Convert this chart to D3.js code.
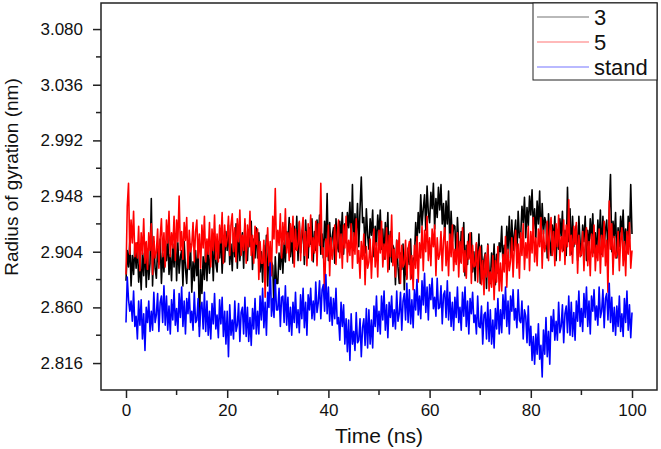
<!DOCTYPE html>
<html>
<head>
<meta charset="utf-8">
<script src="https://cdn.jsdelivr.net/npm/d3@7"></script>
<style>
body { margin: 0; background: #fff; }
svg { display: block; }
text { font-family: "Liberation Sans", Arial, sans-serif; fill: #111; }
</style>
</head>
<body>
<div id="chart"></div>
<script>
// Radius of gyration traces, one sample every 0.25 ns from 0 to 100 ns
const TIME_STEP = 0.25;
const SERIES_NAMES = ["3", "5", "stand"];
const SERIES_COLORS = ["#000000", "#ff0000", "#0000ff"];

const RG_3 = [
  2.881,2.905,2.892,2.912, 2.877,2.901,2.886,2.910, 2.891,2.911,2.880,2.896, 2.874,2.903,2.885,2.911,
  2.876,2.906,2.882,2.895, 2.946,2.877,2.912,2.891, 2.883,2.907,2.894,2.914, 2.879,2.903,2.888,2.912,
  2.897,2.917,2.886,2.902, 2.881,2.910,2.892,2.918, 2.881,2.911,2.887,2.900, 2.905,2.877,2.912,2.891,
  2.879,2.903,2.890,2.910, 2.872,2.896,2.881,2.905, 2.885,2.905,2.845,2.890, 2.871,2.900,2.882,2.908,
  2.881,2.911,2.887,2.900, 2.909,2.881,2.916,2.895, 2.888,2.912,2.899,2.919, 2.887,2.911,2.896,2.920,
  2.905,2.925,2.894,2.910, 2.889,2.918,2.900,2.926, 2.891,2.921,2.897,2.910, 2.919,2.891,2.926,2.905,
  2.897,2.921,2.908,2.928, 2.890,2.914,2.899,2.923, 2.899,2.919,2.888,2.904, 2.880,2.909,2.891,2.917,
  2.877,2.907,2.883,2.896, 2.893,2.858,2.900,2.879, 2.879,2.903,2.890,2.910, 2.887,2.911,2.896,2.920,
  2.911,2.931,2.900,2.916, 2.895,2.924,2.906,2.932, 2.897,2.927,2.903,2.916, 2.922,2.894,2.929,2.908,
  2.899,2.923,2.910,2.930, 2.896,2.920,2.905,2.929, 2.913,2.933,2.902,2.918, 2.899,2.928,2.910,2.950,
  2.897,2.927,2.903,2.916, 2.923,2.895,2.930,2.909, 2.904,2.928,2.915,2.935, 2.902,2.926,2.911,2.935,
  2.923,2.943,2.912,2.957, 2.905,2.934,2.916,2.942, 2.908,2.938,2.963,2.927, 2.931,2.903,2.938,2.917,
  2.906,2.930,2.917,2.937, 2.900,2.924,2.909,2.933, 2.917,2.937,2.906,2.922, 2.898,2.927,2.909,2.935,
  2.890,2.920,2.896,2.909, 2.906,2.878,2.913,2.892, 2.879,2.903,2.890,2.910, 2.874,2.898,2.883,2.907,
  2.894,2.914,2.883,2.899, 2.898,2.927,2.909,2.935, 2.919,2.949,2.925,2.938, 2.949,2.921,2.956,2.935,
  2.927,2.951,2.938,2.958, 2.922,2.946,2.931,2.955, 2.937,2.957,2.926,2.942, 2.915,2.944,2.926,2.952,
  2.906,2.936,2.912,2.925, 2.924,2.896,2.931,2.910, 2.896,2.920,2.907,2.927, 2.885,2.909,2.894,2.918,
  2.899,2.919,2.888,2.904, 2.881,2.910,2.892,2.918, 2.879,2.909,2.885,2.898, 2.903,2.875,2.910,2.889,
  2.879,2.903,2.890,2.910, 2.878,2.902,2.887,2.911, 2.904,2.924,2.893,2.909, 2.895,2.924,2.906,2.932,
  2.899,2.929,2.905,2.918, 2.929,2.901,2.936,2.915, 2.916,2.940,2.927,2.947, 2.915,2.939,2.924,2.948,
  2.933,2.953,2.922,2.938, 2.915,2.944,2.926,2.952, 2.912,2.942,2.918,2.931, 2.927,2.899,2.934,2.913,
  2.901,2.925,2.912,2.932, 2.897,2.921,2.906,2.930, 2.916,2.936,2.905,2.921, 2.901,2.955,2.912,2.938,
  2.902,2.932,2.908,2.921, 2.925,2.897,2.932,2.911, 2.901,2.925,2.912,2.932, 2.897,2.921,2.906,2.930,
  2.914,2.934,2.903,2.919, 2.900,2.929,2.911,2.937, 2.902,2.932,2.908,2.921, 2.929,2.901,2.936,2.965,
  2.904,2.928,2.915,2.935, 2.899,2.923,2.908,2.932, 2.917,2.937,2.906,2.922, 2.903,2.932,2.914,2.957,
  2.918
];

const RG_5 = [
  2.886,2.940,2.958,2.902, 2.929,2.911,2.936,2.900, 2.911,2.899,2.924,2.889, 2.919,2.902,2.930,2.895,
  2.912,2.890,2.919,2.905, 2.926,2.886,2.916,2.899, 2.904,2.922,2.891,2.915, 2.930,2.900,2.919,2.892,
  2.929,2.911,2.936,2.900, 2.919,2.907,2.932,2.897, 2.929,2.912,2.948,2.905, 2.920,2.898,2.927,2.913,
  2.931,2.891,2.921,2.904, 2.909,2.927,2.896,2.920, 2.929,2.899,2.918,2.891, 2.925,2.907,2.932,2.896,
  2.914,2.902,2.927,2.892, 2.922,2.905,2.933,2.898, 2.918,2.896,2.925,2.911, 2.935,2.895,2.925,2.908,
  2.914,2.932,2.901,2.925, 2.934,2.904,2.923,2.896, 2.930,2.912,2.937,2.901, 2.917,2.905,2.930,2.895,
  2.925,2.908,2.936,2.901, 2.917,2.895,2.924,2.910, 2.922,2.882,2.912,2.895, 2.895,2.913,2.868,2.906,
  2.923,2.893,2.912,2.885, 2.932,2.914,2.954,2.903, 2.921,2.909,2.934,2.899, 2.927,2.910,2.938,2.903,
  2.919,2.897,2.926,2.912, 2.932,2.892,2.922,2.905, 2.910,2.928,2.897,2.921, 2.931,2.901,2.920,2.893,
  2.926,2.908,2.933,2.897, 2.915,2.903,2.928,2.893, 2.926,2.909,2.958,2.902, 2.907,2.868,2.914,2.900,
  2.925,2.885,2.915,2.898, 2.907,2.925,2.894,2.918, 2.929,2.899,2.918,2.891, 2.925,2.907,2.932,2.896,
  2.913,2.901,2.926,2.891, 2.919,2.902,2.930,2.895, 2.905,2.883,2.912,2.898, 2.918,2.878,2.908,2.891,
  2.896,2.914,2.883,2.907, 2.922,2.892,2.911,2.884, 2.921,2.903,2.928,2.892, 2.910,2.898,2.923,2.888,
  2.917,2.900,2.933,2.893, 2.906,2.884,2.913,2.899, 2.919,2.879,2.909,2.892, 2.895,2.913,2.882,2.906,
  2.912,2.882,2.901,2.874, 2.909,2.891,2.916,2.880, 2.911,2.899,2.924,2.889, 2.921,2.904,2.932,2.897,
  2.915,2.893,2.922,2.908, 2.925,2.885,2.915,2.898, 2.902,2.920,2.889,2.913, 2.923,2.893,2.912,2.885,
  2.918,2.900,2.925,2.889, 2.906,2.894,2.919,2.884, 2.912,2.895,2.923,2.888, 2.905,2.883,2.912,2.898,
  2.919,2.879,2.909,2.892, 2.893,2.911,2.880,2.904, 2.908,2.878,2.897,2.870, 2.902,2.884,2.909,2.873,
  2.888,2.876,2.901,2.866, 2.897,2.880,2.908,2.873, 2.895,2.873,2.902,2.888, 2.916,2.876,2.906,2.889,
  2.897,2.915,2.884,2.908, 2.921,2.891,2.910,2.883, 2.919,2.901,2.926,2.890, 2.911,2.899,2.924,2.889,
  2.920,2.903,2.931,2.896, 2.915,2.893,2.922,2.908, 2.931,2.891,2.921,2.904, 2.910,2.928,2.897,2.921,
  2.931,2.901,2.920,2.893, 2.926,2.908,2.933,2.897, 2.916,2.904,2.929,2.894, 2.925,2.908,2.945,2.901,
  2.917,2.895,2.924,2.910, 2.927,2.887,2.917,2.900, 2.902,2.920,2.889,2.913, 2.923,2.893,2.912,2.885,
  2.918,2.900,2.925,2.889, 2.909,2.897,2.922,2.887, 2.917,2.900,2.928,2.893, 2.913,2.872,2.944,2.906,
  2.926,2.886,2.916,2.899, 2.902,2.920,2.889,2.913, 2.923,2.893,2.912,2.885, 2.920,2.902,2.927,2.891,
  2.905
];

const RG_STAND = [
  2.848,2.884,2.866,2.857, 2.865,2.849,2.873,2.845, 2.853,2.835,2.865,2.846, 2.866,2.835,2.855,2.826,
  2.860,2.848,2.865,2.841, 2.857,2.842,2.872,2.848, 2.854,2.871,2.841,2.864, 2.869,2.848,2.877,2.846,
  2.869,2.842,2.861,2.839, 2.866,2.850,2.874,2.846, 2.859,2.841,2.871,2.852, 2.876,2.845,2.865,2.839,
  2.867,2.855,2.872,2.848, 2.857,2.842,2.872,2.848, 2.850,2.867,2.837,2.860, 2.864,2.843,2.872,2.841,
  2.865,2.838,2.857,2.835, 2.863,2.847,2.871,2.843, 2.854,2.836,2.866,2.847, 2.868,2.837,2.857,2.831,
  2.857,2.821,2.862,2.838, 2.850,2.835,2.865,2.841, 2.846,2.863,2.833,2.856, 2.860,2.839,2.868,2.837,
  2.860,2.833,2.852,2.830, 2.859,2.843,2.867,2.839, 2.857,2.839,2.869,2.850, 2.875,2.844,2.864,2.838,
  2.872,2.860,2.895,2.853, 2.867,2.852,2.882,2.858, 2.858,2.875,2.845,2.868, 2.869,2.848,2.877,2.846,
  2.868,2.841,2.860,2.838, 2.864,2.848,2.872,2.844, 2.858,2.840,2.870,2.851, 2.875,2.844,2.864,2.838,
  2.870,2.858,2.875,2.851, 2.865,2.850,2.880,2.856, 2.864,2.881,2.851,2.874, 2.878,2.857,2.886,2.855,
  2.876,2.849,2.868,2.846, 2.867,2.851,2.875,2.847, 2.852,2.834,2.864,2.845, 2.862,2.831,2.851,2.825,
  2.850,2.818,2.855,2.831, 2.841,2.826,2.856,2.832, 2.834,2.851,2.821,2.844, 2.851,2.830,2.859,2.828,
  2.858,2.831,2.850,2.828, 2.861,2.845,2.869,2.841, 2.857,2.839,2.869,2.850, 2.873,2.842,2.862,2.836,
  2.864,2.852,2.869,2.845, 2.858,2.843,2.873,2.849, 2.855,2.872,2.842,2.865, 2.871,2.850,2.879,2.848,
  2.874,2.847,2.866,2.844, 2.874,2.858,2.882,2.854, 2.869,2.851,2.881,2.862, 2.887,2.856,2.876,2.850,
  2.878,2.866,2.883,2.859, 2.868,2.853,2.883,2.859, 2.860,2.877,2.847,2.870, 2.873,2.852,2.881,2.850,
  2.872,2.845,2.864,2.842, 2.868,2.852,2.876,2.848, 2.860,2.842,2.872,2.853, 2.876,2.845,2.865,2.839,
  2.867,2.855,2.872,2.848, 2.854,2.839,2.869,2.845, 2.844,2.861,2.831,2.854, 2.856,2.835,2.864,2.833,
  2.858,2.831,2.850,2.828, 2.859,2.843,2.867,2.839, 2.858,2.840,2.870,2.851, 2.876,2.845,2.865,2.839,
  2.869,2.857,2.874,2.850, 2.859,2.844,2.874,2.850, 2.848,2.865,2.835,2.858, 2.853,2.832,2.861,2.830,
  2.845,2.818,2.837,2.815, 2.839,2.823,2.847,2.819, 2.830,2.805,2.842,2.823, 2.852,2.821,2.841,2.815,
  2.853,2.841,2.858,2.834, 2.849,2.834,2.864,2.840, 2.845,2.862,2.832,2.855, 2.861,2.840,2.869,2.838,
  2.864,2.837,2.856,2.834, 2.865,2.849,2.873,2.845, 2.859,2.841,2.871,2.852, 2.876,2.845,2.865,2.839,
  2.869,2.857,2.874,2.850, 2.861,2.846,2.876,2.852, 2.857,2.874,2.844,2.867, 2.871,2.850,2.879,2.848,
  2.868,2.841,2.860,2.838, 2.861,2.845,2.869,2.841, 2.855,2.837,2.867,2.848, 2.873,2.842,2.862,2.836,
  2.856
];

const X_TICKS = [0, 20, 40, 60, 80, 100];
const X_MINOR = [10, 30, 50, 70, 90];
const Y_TICKS = [2.816, 2.860, 2.904, 2.948, 2.992, 3.036, 3.080];
const Y_MINOR = [2.838, 2.882, 2.926, 2.970, 3.014, 3.058];

const WIDTH = 661, HEIGHT = 449;
const FRAME = { left: 101, right: 657, top: 3, bottom: 390 };

const svg = d3.select("#chart").append("svg")
    .attr("width", WIDTH)
    .attr("height", HEIGHT);

const x = d3.scaleLinear()
    .domain([-4.94, 104.94])
    .range([FRAME.left, FRAME.right]);

const y = d3.scaleLinear()
    .domain([2.7947, 3.1006])
    .range([FRAME.bottom, FRAME.top]);

svg.append("clipPath").attr("id", "plot-clip")
    .append("rect")
    .attr("x", FRAME.left).attr("y", FRAME.top)
    .attr("width", FRAME.right - FRAME.left)
    .attr("height", FRAME.bottom - FRAME.top);

// traces, drawn in legend order so red sits on top of black
const line = d3.line()
    .x((d, i) => x(i * TIME_STEP))
    .y(d => y(d));

const plot = svg.append("g").attr("clip-path", "url(#plot-clip)");
[RG_3, RG_5, RG_STAND].forEach((values, k) => {
    plot.append("path")
        .datum(values)
        .attr("fill", "none")
        .attr("stroke", SERIES_COLORS[k])
        .attr("stroke-width", 1.6)
        .attr("stroke-linejoin", "round")
        .attr("d", line);
});

// x axis
const xAxis = svg.append("g")
    .attr("transform", `translate(0,${FRAME.bottom})`)
    .call(d3.axisBottom(x).tickValues(X_TICKS).tickSize(8).tickPadding(6));
xAxis.append("g").selectAll("line")
    .data(X_MINOR)
    .join("line")
    .attr("x1", d => x(d)).attr("x2", d => x(d))
    .attr("y1", 0).attr("y2", 5);

// y axis
const yAxis = svg.append("g")
    .attr("transform", `translate(${FRAME.left},0)`)
    .call(d3.axisLeft(y).tickValues(Y_TICKS).tickFormat(d3.format(".3f")).tickSize(8).tickPadding(10));
yAxis.append("g").selectAll("line")
    .data(Y_MINOR)
    .join("line")
    .attr("y1", d => y(d)).attr("y2", d => y(d))
    .attr("x1", 0).attr("x2", -5);

[xAxis, yAxis].forEach(ax => {
    ax.select(".domain").remove();
    ax.selectAll("line").attr("stroke", "#222").attr("stroke-width", 1.5);
    ax.selectAll("text")
        .attr("fill", "#111")
        .style("font-size", "17px")
        .style("font-family", "'Liberation Sans', Arial, sans-serif");
});

// frame
svg.append("rect")
    .attr("x", FRAME.left).attr("y", FRAME.top)
    .attr("width", FRAME.right - FRAME.left)
    .attr("height", FRAME.bottom - FRAME.top)
    .attr("fill", "none")
    .attr("stroke", "#222")
    .attr("stroke-width", 1.5);

// axis titles
svg.append("text")
    .attr("x", (FRAME.left + FRAME.right) / 2)
    .attr("y", 443)
    .attr("text-anchor", "middle")
    .style("font-size", "21px")
    .text("Time (ns)");

svg.append("text")
    .attr("transform", "translate(18,177) rotate(-90)")
    .attr("text-anchor", "middle")
    .style("font-size", "19px")
    .text("Radius of gyration (nm)");

// legend
const legend = svg.append("g");
legend.append("rect")
    .attr("x", 533).attr("y", FRAME.top)
    .attr("width", FRAME.right - 533)
    .attr("height", 77)
    .attr("fill", "#fff")
    .attr("stroke", "#222")
    .attr("stroke-width", 1);

SERIES_NAMES.forEach((name, k) => {
    const cy = 17 + k * 25;
    legend.append("line")
        .attr("x1", 537).attr("x2", 589)
        .attr("y1", cy).attr("y2", cy)
        .attr("stroke", SERIES_COLORS[k])
        .attr("stroke-opacity", 0.55)
        .attr("stroke-width", 1);
    legend.append("text")
        .attr("x", 594).attr("y", cy)
        .attr("dy", "0.36em")
        .style("font-size", "22px")
        .text(name);
});
</script>
</body>
</html>
